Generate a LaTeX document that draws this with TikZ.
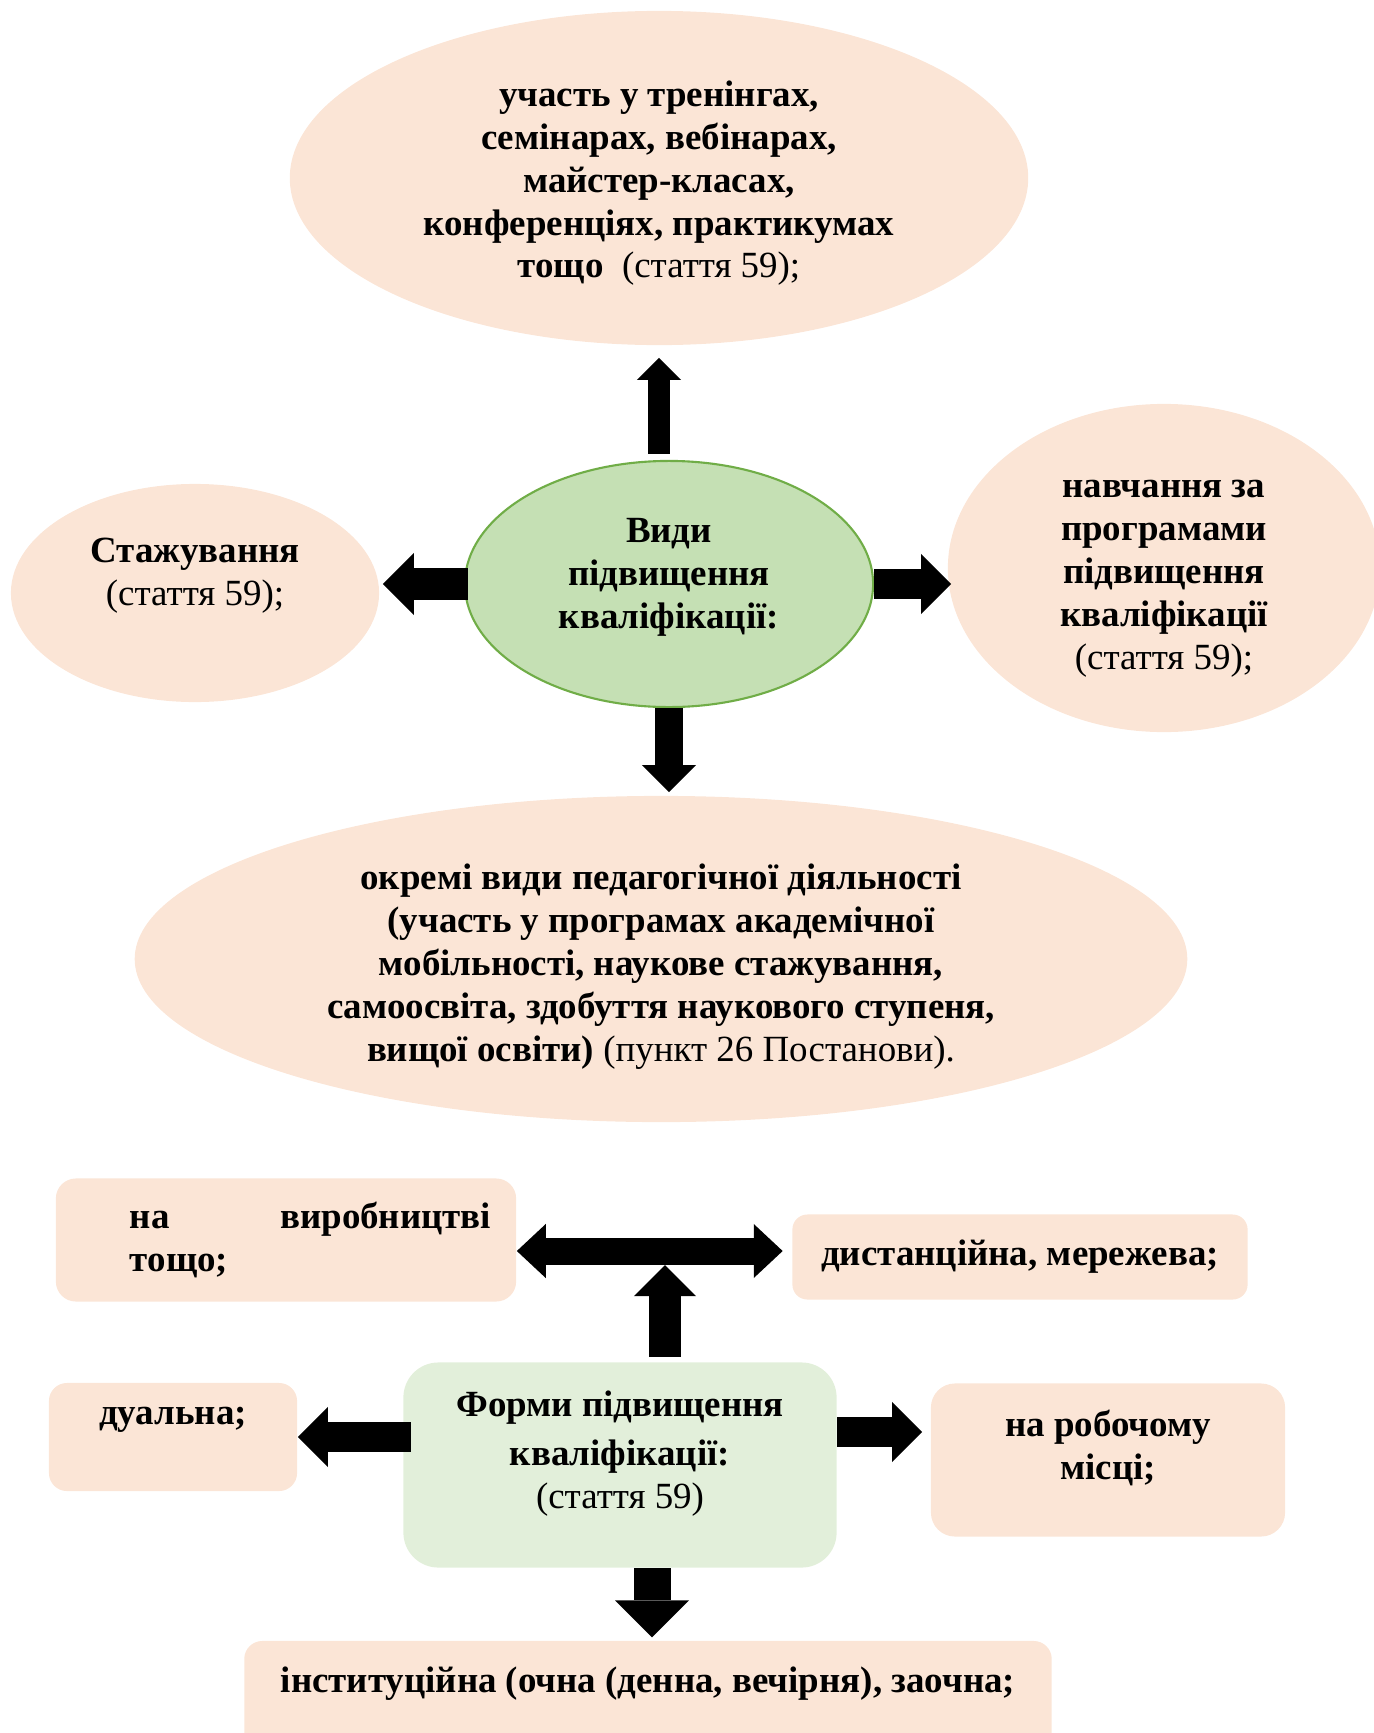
\documentclass[tikz,border=0pt]{standalone}
\usepackage{fontspec}
\setmainfont{Liberation Serif}
\usetikzlibrary{shapes.geometric,arrows.meta}
\definecolor{peach}{RGB}{251,229,214}
\definecolor{leaf}{RGB}{197,224,180}
\definecolor{leafline}{RGB}{112,173,71}
\definecolor{mint}{RGB}{226,239,218}

\begin{document}
\begin{tikzpicture}[x=0.01cm,y=-0.01cm,
    every node/.style={font=\fontsize{10.5}{12.2}\selectfont\bfseries, align=center, inner sep=0pt},
    oval/.style={ellipse, fill=peach},
    card/.style={rectangle, fill=peach, rounded corners=#1},
    card/.default=0.2cm,
    blockarrow/.style={line width=#1, -{Triangle[width=0pt 2, length=0pt 1, line width=0pt]}},
    twoway/.style={line width=#1, {Triangle[width=0pt 2, length=0pt 1.07, line width=0pt]}-{Triangle[width=0pt 2, length=0pt 1.07, line width=0pt]}}]
    \useasboundingbox (0,0) rectangle (1374,1733);
    \clip (0,0) rectangle (1374,1733);

    % kinds of training (upper scheme)
    \node[oval, minimum width=7.38cm, minimum height=3.34cm] (uchast) at (659,178)
        {\rule{0pt}{10.3pt}участь у тренінгах,\\семінарах, вебінарах,\\майстер-класах,\\конференціях, практикумах\\тощо\enspace{\mdseries(стаття 59);}};
    \node[ellipse, fill=leaf, draw=leafline, line width=0.6pt, minimum width=4.08cm, minimum height=2.46cm] (vydy) at (669,584)
        {Види\\підвищення\\кваліфікації:\rule[-6pt]{0pt}{1pt}};
    \node[oval, minimum width=3.68cm, minimum height=2.18cm] (stazh) at (195,593)
        {Стажування\\{\mdseries(стаття 59);}\\\mbox{}};
    \node[oval, minimum width=4.32cm, minimum height=3.28cm] (navch) at (1164,568)
        {\rule{0pt}{11pt}навчання за\\програмами\\підвищення\\кваліфікації\\{\mdseries(стаття 59);}};
    \node[oval, minimum width=10.52cm, minimum height=3.26cm] (okremi) at (661,959)
        {\rule{0pt}{11.5pt}окремі види педагогічної діяльності\\(участь у програмах академічної\\мобільності, наукове стажування,\\самоосвіта, здобуття наукового ступеня,\\вищої освіти) {\mdseries(пункт 26 Постанови).}};

    \draw[blockarrow=0.22cm, shorten <=0.06cm, shorten >=0.12cm] (uchast.south |- vydy.north) -- (uchast.south);
    \draw[blockarrow=0.31cm, shorten <=-0.04cm, shorten >=0.03cm] (vydy.west) -- (vydy.west -| stazh.east);
    \draw[blockarrow=0.30cm, shorten >=-0.04cm] (vydy.east) -- (vydy.east -| navch.west);
    \draw[blockarrow=0.27cm, shorten >=0.03cm] (vydy.south) -- (vydy.south |- okremi.north);

    % forms of training (lower scheme)
    \node[card=0.2cm, minimum width=4.60cm, minimum height=1.23cm, text width=4.10cm, align=left] (vyrob) at (286,1240)
        {\hspace*{0.49cm}\hbox to 3.61cm{на\hfill виробництві}\\\hspace*{0.49cm}тощо;};
    \node[card=0.15cm, minimum width=4.55cm, minimum height=0.85cm] (dyst) at (1020,1257)
        {дистанційна, мережева;};
    \node[card=0.35cm, fill=mint, minimum width=4.33cm, minimum height=2.05cm] (forma) at (620,1465)
        {Форми підвищення\\[0.06cm]кваліфікації:\\{\mdseries(стаття 59)}\rule[-8.5pt]{0pt}{1pt}};
    \node[card=0.18cm, minimum width=2.48cm, minimum height=1.08cm] (dual) at (173,1437)
        {дуальна;\\\mbox{}};
    \node[card=0.24cm, minimum width=3.54cm, minimum height=1.53cm] (robo) at (1108,1460)
        {на робочому\\місці;\rule[-8.8pt]{0pt}{1pt}};
    \node[card=0.18cm, minimum width=8.07cm, minimum height=1.20cm] (instyt) at (648,1701)
        {інституційна (очна (денна, вечірня), заочна;\\\mbox{}};

    \coordinate (tee) at (665,1251);
    \draw[twoway=0.27cm, shorten >=0.09cm] (tee -| vyrob.east) -- (tee -| dyst.west);
    \draw[blockarrow=0.31cm, shorten <=0.05cm, shorten >=0.14cm] (tee |- forma.north) -- (tee);
    \draw[blockarrow=0.30cm, shorten <=-0.08cm] (dual.east -| forma.west) -- (dual.east);
    \draw[blockarrow=0.30cm, shorten >=0.08cm] ([yshift=0.33cm]forma.east) -- ([yshift=0.33cm]forma.east -| robo.west);
    \draw[blockarrow=0.37cm, shorten >=0.03cm] ([xshift=0.32cm]forma.south) -- ([xshift=0.32cm]forma.south |- instyt.north);
\end{tikzpicture}
\end{document}
